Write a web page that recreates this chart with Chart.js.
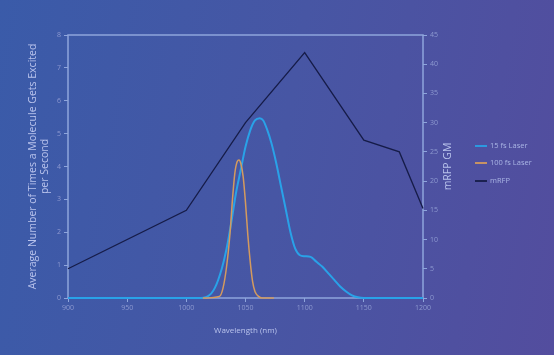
<!DOCTYPE html>
<html><head><meta charset="utf-8">
<script src="https://cdn.jsdelivr.net/npm/chart.js@4/dist/chart.umd.min.js"></script>
<style>
html,body{margin:0;padding:0;}
body{width:554px;height:355px;overflow:hidden;background:linear-gradient(100deg,#3a5ba9 0%,#4756a4 50%,#534d9e 100%);}
#wrap{position:relative;width:554px;height:355px;}
</style></head><body>
<div id="wrap"><canvas id="c" width="554" height="355"></canvas></div>
<script>
const fs15X = [900,1010,1018,1024,1030,1034,1038,1042,1046,1050,1054,1058,1062,1065,1068,1072,1076,1080,1084,1088,1092,1096,1100,1105,1110,1115,1120,1125,1130,1135,1140,1145,1150,1200];
const fs15Y = [0,0,0.05,0.3,0.9,1.5,2.3,3.2,3.9,4.6,5.1,5.4,5.47,5.4,5.15,4.7,4.1,3.4,2.7,2.0,1.5,1.3,1.27,1.25,1.1,0.95,0.75,0.55,0.35,0.2,0.08,0.02,0,0];
const fs100X = [1014,1028,1031,1034,1037,1039,1041,1043,1044.5,1046,1048,1050,1052,1054,1056,1058,1061,1064,1074];
const fs100Y = [0,0.05,0.3,0.95,2.0,3.0,3.8,4.15,4.2,4.1,3.7,2.9,1.9,1.1,0.5,0.2,0.05,0,0];
const mrfpX = [900,1000,1050,1100,1150,1180,1200];
const mrfpY = [5,15,30,42,27,25,15.3];
const seriesNames = ['15 fs Laser','100 fs Laser','mRFP'];
const xTitle = 'Wavelength (nm)';
const yTitle = ['Average Number of Times a Molecule Gets Excited','per Second'];
const y1Title = 'mRFP GM';

const zip = (xs, ys) => xs.map((x, i) => ({x, y: ys[i]}));
const tickColor = '#8d99d0';
const borderColor = '#8ea5dc';
const titleColor = '#b9c3ec';
const fontFam = '"Open Sans", sans-serif';

const frame = {
  id: 'frame',
  beforeDatasetsDraw(chart) {
    const a = chart.chartArea, ctx = chart.ctx;
    ctx.save();
    ctx.strokeStyle = borderColor;
    ctx.lineWidth = 1.5;
    ctx.strokeRect(a.left, a.top, a.right - a.left, a.bottom - a.top);
    ctx.restore();
  }
};
const extras = {
  id: 'extras',
  afterDraw(chart) {
    const ctx = chart.ctx;
    const a = chart.chartArea;
    // right axis title, reading bottom-to-top
    ctx.save();
    ctx.translate(448, (a.top + a.bottom) / 2);
    ctx.rotate(-Math.PI / 2);
    ctx.font = '10.5px ' + fontFam;
    ctx.fillStyle = titleColor;
    ctx.textAlign = 'center';
    ctx.textBaseline = 'middle';
    ctx.fillText(y1Title, 0, 0);
    ctx.restore();
    // legend
    const ys = [146, 163, 181];
    ctx.save();
    ctx.font = '7.5px ' + fontFam;
    ctx.textBaseline = 'middle';
    chart.data.datasets.forEach((ds, i) => {
      ctx.strokeStyle = ds.borderColor;
      ctx.lineWidth = 1.8;
      ctx.beginPath();
      ctx.moveTo(475, ys[i]);
      ctx.lineTo(487, ys[i]);
      ctx.stroke();
      ctx.fillStyle = '#aab5e4';
      ctx.fillText(ds.label, 490, ys[i]);
    });
    ctx.restore();
  }
};

new Chart(document.getElementById('c'), {
  type: 'line',
  data: {
    datasets: [
      {label: seriesNames[0], data: zip(fs15X, fs15Y), borderColor: '#29a2e8', borderWidth: 2, pointRadius: 0, cubicInterpolationMode: 'monotone', yAxisID: 'y', clip: 3, order: 2},
      {label: seriesNames[1], data: zip(fs100X, fs100Y), borderColor: '#d49a5e', borderWidth: 1.5, pointRadius: 0, cubicInterpolationMode: 'monotone', yAxisID: 'y', clip: 3, order: 1},
      {label: seriesNames[2], data: zip(mrfpX, mrfpY), borderColor: '#161c48', borderWidth: 1.3, pointRadius: 0, tension: 0, yAxisID: 'y1', clip: 3, order: 3}
    ]
  },
  options: {
    responsive: false,
    animation: false,
    devicePixelRatio: 1,
    layout: {padding: {top: 35, right: 91, bottom: 0, left: 0}},
    plugins: {legend: {display: false}, tooltip: {enabled: false}},
    scales: {
      x: {
        type: 'linear', min: 900, max: 1200,
        ticks: {stepSize: 50, color: tickColor, font: {size: 7, family: fontFam}, padding: 2, maxRotation: 0, callback: v => String(v)},
        grid: {drawOnChartArea: false, drawTicks: true, tickLength: 4, color: borderColor},
        border: {display: false},
        title: {display: true, text: xTitle, color: titleColor, font: {size: 8, family: fontFam}, padding: {top: 0, bottom: 19}},
        afterFit(s) { s.height = 57; }
      },
      y: {
        position: 'left', min: 0, max: 8,
        ticks: {stepSize: 1, color: tickColor, font: {size: 7, family: fontFam}, padding: 3},
        grid: {drawOnChartArea: false, drawTicks: true, tickLength: 4, color: borderColor},
        border: {display: false},
        title: {display: true, text: yTitle, color: titleColor, font: {size: 10.5, family: fontFam, lineHeight: 1.15}, padding: {top: 27, bottom: 0}},
        afterFit(s) { s.width = 68; }
      },
      y1: {
        position: 'right', min: 0, max: 45,
        ticks: {stepSize: 5, color: tickColor, font: {size: 7, family: fontFam}, padding: 3},
        grid: {drawOnChartArea: false, drawTicks: true, tickLength: 4, color: borderColor},
        border: {display: false},
        title: {display: false},
        afterFit(s) { s.width = 40; }
      }
    }
  },
  plugins: [frame, extras]
});
</script>
</body></html>
